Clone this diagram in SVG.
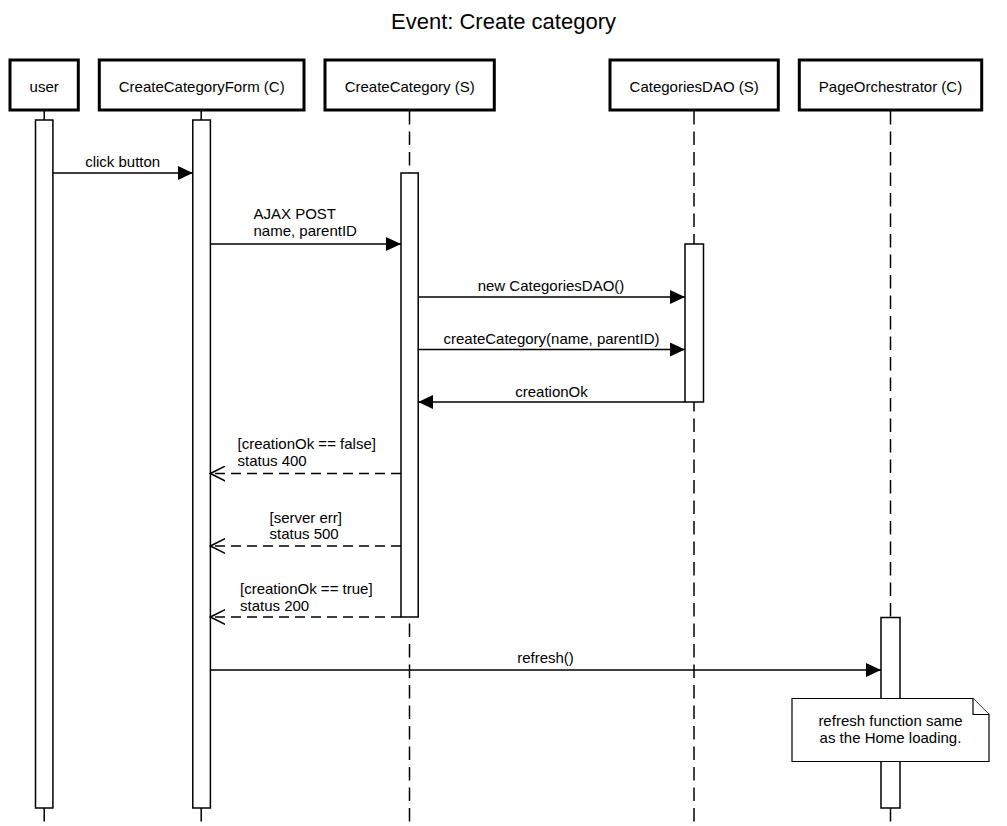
<svg xmlns="http://www.w3.org/2000/svg" width="1007" height="826" viewBox="0 0 1007 826">
<style>
text{font-family:"Liberation Sans",Arial,Helvetica,sans-serif;font-size:15px;fill:#000}
.title{font-size:22px}
.c{text-anchor:middle}
.hdr{fill:#fff;stroke:#000;stroke-width:3}
.life{stroke:#000;stroke-width:1.5;stroke-dasharray:13.5 7;fill:none}
.act{fill:#fff;stroke:#000;stroke-width:1.5}
.msg{stroke:#000;stroke-width:1.5;fill:none}
.ret{stroke:#000;stroke-width:1.5;fill:none;stroke-dasharray:10 6}
.note{fill:#fff;stroke:#000;stroke-width:1.2}
</style>
<defs>
<marker id="filled" viewBox="0 0 15 14" refX="15" refY="7" markerWidth="15" markerHeight="14" markerUnits="userSpaceOnUse" orient="auto">
<path d="M0,0 L15,7 L0,14 Z" fill="#000"/>
</marker>
<marker id="open" viewBox="0 0 16 16" refX="15" refY="8" markerWidth="16" markerHeight="16" markerUnits="userSpaceOnUse" orient="auto">
<path d="M0,0.5 L15,8 L0,15.5" fill="none" stroke="#000" stroke-width="1.5"/>
</marker>
</defs>
<rect width="1007" height="826" fill="#fff"/>
<text class="title c" x="503.5" y="29">Event: Create category</text>

<g id="lifelines">
<line class="life" x1="44.2" y1="111" x2="44.2" y2="826"/>
<line class="life" x1="201.2" y1="111" x2="201.2" y2="826"/>
<line class="life" x1="409.5" y1="111" x2="409.5" y2="826"/>
<line class="life" x1="694" y1="111" x2="694" y2="826"/>
<line class="life" x1="890.5" y1="111" x2="890.5" y2="826"/>
</g>

<g id="user">
<rect class="hdr" x="10" y="60" width="68.3" height="50"/>
<text class="c" x="44.2" y="92">user</text>
<rect class="act" x="35.5" y="120" width="17.4" height="688"/>
</g>
<g id="CreateCategoryForm">
<rect class="hdr" x="99.3" y="60" width="204.7" height="50"/>
<text class="c" x="201.7" y="92">CreateCategoryForm (C)</text>
<rect class="act" x="192.8" y="120" width="17.6" height="688"/>
</g>
<g id="CreateCategory">
<rect class="hdr" x="325" y="60" width="169.3" height="50"/>
<text class="c" x="409.7" y="92">CreateCategory (S)</text>
<rect class="act" x="401" y="173" width="17.2" height="444"/>
</g>
<g id="CategoriesDAO">
<rect class="hdr" x="610" y="60" width="168.3" height="50"/>
<text class="c" x="694.2" y="92">CategoriesDAO (S)</text>
<rect class="act" x="685" y="244" width="18.5" height="158"/>
</g>
<g id="PageOrchestrator">
<rect class="hdr" x="799.3" y="60" width="182.4" height="50"/>
<text class="c" x="890.5" y="92">PageOrchestrator (C)</text>
<rect class="act" x="881" y="617.5" width="19" height="190.5"/>
</g>

<g id="connectors">
<line class="msg" x1="53" y1="173" x2="192.8" y2="173" marker-end="url(#filled)"/>
<text class="c" x="122.7" y="166.5">click button</text>

<line class="msg" x1="210.4" y1="244" x2="401" y2="244" marker-end="url(#filled)"/>
<text x="253.5" y="219">AJAX POST</text>
<text x="253.5" y="236">name, parentID</text>

<line class="msg" x1="418.2" y1="297" x2="685" y2="297" marker-end="url(#filled)"/>
<text class="c" x="551" y="290.5">new CategoriesDAO()</text>

<line class="msg" x1="418.2" y1="349.5" x2="685" y2="349.5" marker-end="url(#filled)"/>
<text class="c" x="551.5" y="343.5">createCategory(name, parentID)</text>

<line class="msg" x1="685" y1="402" x2="418.2" y2="402" marker-end="url(#filled)"/>
<text class="c" x="551.5" y="396.5">creationOk</text>

<line class="ret" x1="401" y1="473.5" x2="210.4" y2="473.5" marker-end="url(#open)"/>
<text x="237.5" y="449">[creationOk == false]</text>
<text x="237.5" y="466">status 400</text>

<line class="ret" x1="401" y1="546" x2="210.4" y2="546" marker-end="url(#open)"/>
<text x="269.5" y="522.5">[server err]</text>
<text x="269.5" y="539">status 500</text>

<line class="ret" x1="401" y1="617" x2="210.4" y2="617" marker-end="url(#open)"/>
<text x="240" y="594">[creationOk == true]</text>
<text x="240" y="610.5">status 200</text>

<line class="msg" x1="210.4" y1="670" x2="881" y2="670" marker-end="url(#filled)"/>
<text class="c" x="545.5" y="663">refresh()</text>
</g>

<g id="note">
<path class="note" d="M792,698.5 L973,698.5 L989,714.5 L989,761.5 L792,761.5 Z"/>
<path class="note" d="M973,698.5 L973,714.5 L989,714.5" fill="none"/>
<text class="c" x="890.5" y="726">refresh function same</text>
<text class="c" x="890.5" y="742.5">as the Home loading.</text>
</g>
</svg>
